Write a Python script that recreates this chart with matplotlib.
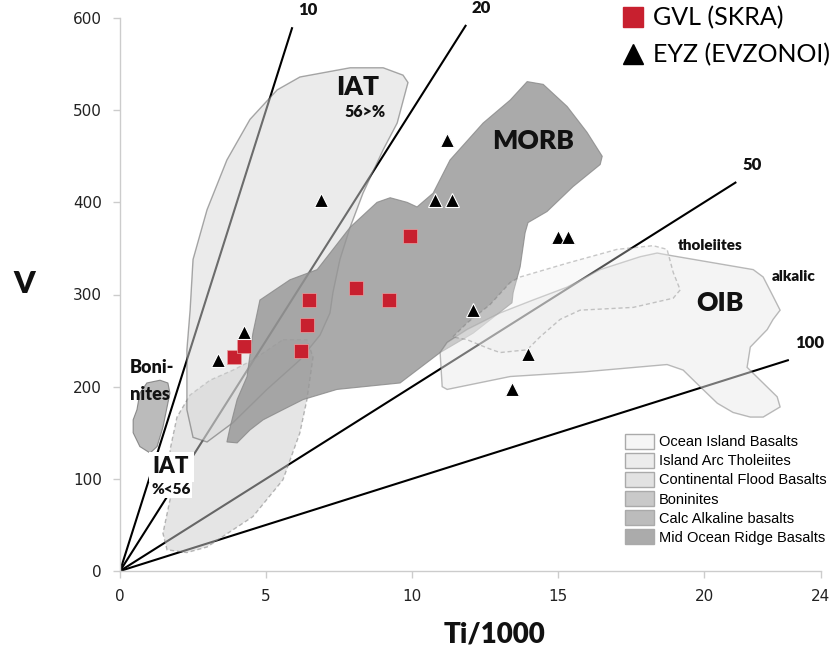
import matplotlib
matplotlib.use('Agg')
import matplotlib.pyplot as plt
from matplotlib.patches import Polygon, Patch
from matplotlib.lines import Line2D

# samples (Ti/1000, V)
gvl_ti = [3.90, 4.25, 6.20, 6.40, 6.47, 8.08, 9.21, 9.93]
gvl_v = [232, 244, 239, 267, 294, 307, 294, 364]
eyz_ti = [3.36, 4.25, 6.88, 11.20, 10.79, 11.37, 15.0, 15.34, 12.09, 13.97, 13.42]
eyz_v = [229, 259, 402, 468, 403, 403, 362, 362, 283, 235, 197]

# Ti/V ratio lines and how far they run
ratios = [10, 20, 50, 100]
ratio_end_ti = [5.9, 11.85, 21.1, 22.9]

# fields (Ti/1000, V)
iat_field = [(9.69, 538), (9.86, 530), (9.49, 486), (9.01, 457), (8.32, 410), (7.88, 373),
             (7.53, 338), (7.29, 302), (7.19, 280), (6.85, 256), (6.16, 229), (5.03, 197),
             (3.87, 161), (2.98, 140), (2.50, 145), (2.29, 175), (2.29, 240), (2.40, 283),
             (2.50, 338), (2.98, 392), (3.66, 446), (4.45, 490), (5.38, 522), (6.16, 536),
             (7.88, 546), (9.01, 546)]
morb_field = [(13.94, 531), (14.49, 528), (15.31, 504), (15.99, 476), (16.51, 450), (16.44, 441),
              (15.51, 417), (14.62, 390), (13.97, 378), (13.87, 367), (13.70, 330), (13.46, 302),
              (13.42, 291), (12.09, 258), (10.96, 237), (9.59, 204), (7.43, 197), (6.27, 186),
              (5.58, 175), (4.90, 164), (4.45, 153), (4.01, 139), (3.66, 140), (3.77, 156),
              (4.01, 186), (4.35, 211), (4.55, 258), (4.79, 294), (5.82, 316), (6.75, 327),
              (7.88, 373), (8.80, 400), (9.25, 405), (9.83, 400), (10.17, 395), (10.72, 410),
              (11.30, 446), (12.43, 486), (13.36, 511)]
oib_field = [(10.96, 237), (11.03, 200), (11.20, 197), (13.36, 211), (15.86, 216), (18.73, 224),
             (19.28, 218), (19.86, 200), (20.45, 182), (20.99, 172), (21.58, 167), (22.02, 167),
             (22.60, 178), (22.50, 189), (21.92, 207), (21.47, 221), (21.58, 243), (22.16, 262),
             (22.36, 273), (22.60, 283), (22.36, 298), (22.02, 319), (21.68, 327), (18.73, 343),
             (18.39, 345), (17.81, 341), (16.44, 327), (15.31, 308), (14.14, 294), (13.01, 280),
             (11.88, 262), (11.20, 248)]
cfb_field = [(5.58, 251), (6.40, 251), (6.61, 232), (6.40, 186), (6.16, 150), (5.58, 99),
             (4.55, 59), (2.98, 26), (2.29, 20), (1.61, 23), (1.47, 41), (1.71, 77), (1.82, 106),
             (1.71, 131), (1.95, 167), (2.40, 191), (3.08, 207), (3.87, 218), (4.55, 229)]
thol_field = [(11.40, 254), (11.88, 269), (12.67, 289), (13.36, 313), (13.70, 319), (15.31, 334),
              (17.02, 349), (18.25, 353), (18.73, 349), (18.94, 324), (19.18, 305), (18.94, 296),
              (17.57, 286), (15.75, 283), (15.07, 273), (14.38, 254), (13.94, 240), (13.01, 237),
              (12.57, 242), (11.88, 251)]
bon_field = [(0.58, 175), (0.68, 193), (0.92, 204), (1.37, 207), (1.64, 204), (1.71, 193),
             (1.47, 156), (1.27, 135), (1.03, 128), (0.68, 135), (0.45, 150), (0.45, 164)]

legend_names = ['Ocean Island Basalts', 'Island Arc Tholeiites', 'Continental Flood Basalts',
                'Boninites', 'Calc Alkaline basalts', 'Mid Ocean Ridge Basalts']
legend_cols = ['#f5f5f5', '#ececec', '#e2e2e2', '#c9c9c9', '#bcbcbc', '#ababab']

red = '#c8202f'
bold = dict(family='Lato', fontweight='heavy', color='#111111', zorder=12)

fig = plt.figure(figsize=(8.38, 6.52), dpi=100)
ax = fig.add_axes([120 / 838, 81 / 652, 701 / 838, 553 / 652])

for r, xe in zip(ratios, ratio_end_ti):
    ax.plot([0, xe], [0, 1000 * xe / r], color='black', lw=1.5, zorder=1, solid_capstyle='butt')

ax.add_patch(Polygon(cfb_field, closed=True, fc='#cdcdcd', ec='#777777', lw=1, ls=(0, (3, 2)),
                     alpha=0.5, zorder=2))
ax.add_patch(Polygon(iat_field, closed=True, fc='#d8d9d9', ec='#555555', lw=1, alpha=0.5, zorder=3))
ax.add_patch(Polygon(bon_field, closed=True, fc='#aaaaaa', ec='#777777', lw=0.8, alpha=0.8, zorder=3))
ax.add_patch(Polygon(morb_field, closed=True, fc='#959595', ec='#888888', lw=0.8, alpha=0.8, zorder=4))
ax.add_patch(Polygon(oib_field, closed=True, fc='#ebebeb', ec='#777777', lw=1, alpha=0.5, zorder=5))
ax.add_patch(Polygon(thol_field, closed=True, fc='#eeeeee', ec='#666666', lw=1, ls=(0, (3, 2)),
                     alpha=0.35, zorder=6))

ax.plot(gvl_ti, gvl_v, 's', color=red, markersize=10, mec='#e8a0a0', mew=0.5, zorder=8)
ax.plot(eyz_ti, eyz_v, '^', color='black', markersize=10, mec='white', mew=0.8, zorder=8)

# ratio labels
for r, xe in zip(ratios, ratio_end_ti):
    ax.text(xe + 0.2, 1000 * xe / r + 10, str(r), fontsize=12, ha='left', va='bottom', **bold)

ax.text(8.15, 525, 'IAT', fontsize=19, ha='center', va='center', **bold)
ax.text(8.39, 498, '56>%', fontsize=11.5, ha='center', va='center', **bold)
ax.text(14.14, 467, 'MORB', fontsize=19, ha='center', va='center', **bold)
ax.text(20.55, 291, 'OIB', fontsize=19, ha='center', va='center', **bold)
ax.text(20.2, 353, 'tholeiites', fontsize=11, ha='center', va='center', **bold)
ax.text(23.05, 319, 'alkalic', fontsize=11, ha='center', va='center', **bold)
ax.text(0.34, 221, 'Boni-', fontsize=13, ha='left', va='center', **bold)
ax.text(0.34, 191, 'nites', fontsize=13, ha='left', va='center', **bold)
ax.text(1.75, 113, 'IAT', fontsize=16, ha='center', va='center',
        bbox=dict(fc='white', ec='none', pad=3), **bold)
ax.text(1.75, 88, '%<56', fontsize=11, ha='center', va='center',
        bbox=dict(fc='white', ec='none', pad=1), **bold)

ax.set_xlim(0, 24)
ax.set_ylim(0, 600)
ax.set_xticks([0, 5, 10, 15, 20, 24])
ax.set_yticks(range(0, 601, 100))
for s in ['top', 'right']:
    ax.spines[s].set_visible(False)
for s in ['left', 'bottom']:
    ax.spines[s].set_color('#cccccc')
    ax.spines[s].set_linewidth(1)
ax.tick_params(colors='#cccccc', labelcolor='#222222', labelsize=11, length=5, width=1, pad=8)
ax.set_xlabel('Ti/1000', fontsize=20, family='Lato', fontweight='heavy', color='#111111',
              va='center')
ax.xaxis.set_label_coords((494 - 120) / 701, -(634 - 571) / 553)
ax.set_ylabel('V', fontsize=22, rotation=0, family='Lato', fontweight='heavy', color='#111111',
              va='center', ha='center')
ax.yaxis.set_label_coords((24 - 120) / 701, (571 - 284) / 553)

mk = [Line2D([], [], marker='s', color=red, ls='none', markersize=15),
      Line2D([], [], marker='^', color='black', ls='none', markersize=15)]
leg1 = fig.legend(mk, ['GVL (SKRA)', 'EYZ (EVZONOI)'], loc='upper left',
                  bbox_to_anchor=(620 / 838, 1 - 6 / 652), frameon=False,
                  prop=dict(family='Lato', size=18), handlelength=1.0, handletextpad=0.3,
                  labelspacing=0.55, borderpad=0, borderaxespad=0)
leg1.set_zorder(20)

pt = [Patch(fc=c, ec='#aaaaaa', lw=1) for c in legend_cols]
fig.legend(pt, legend_names, loc='upper left', bbox_to_anchor=(625 / 838, 1 - 434 / 652),
           frameon=False, prop=dict(family='Liberation Sans', size=10.5), handlelength=2.0,
           handleheight=1.2, handletextpad=0.3, labelspacing=0.25, borderpad=0, borderaxespad=0)

fig.savefig('out.png', dpi=100)
